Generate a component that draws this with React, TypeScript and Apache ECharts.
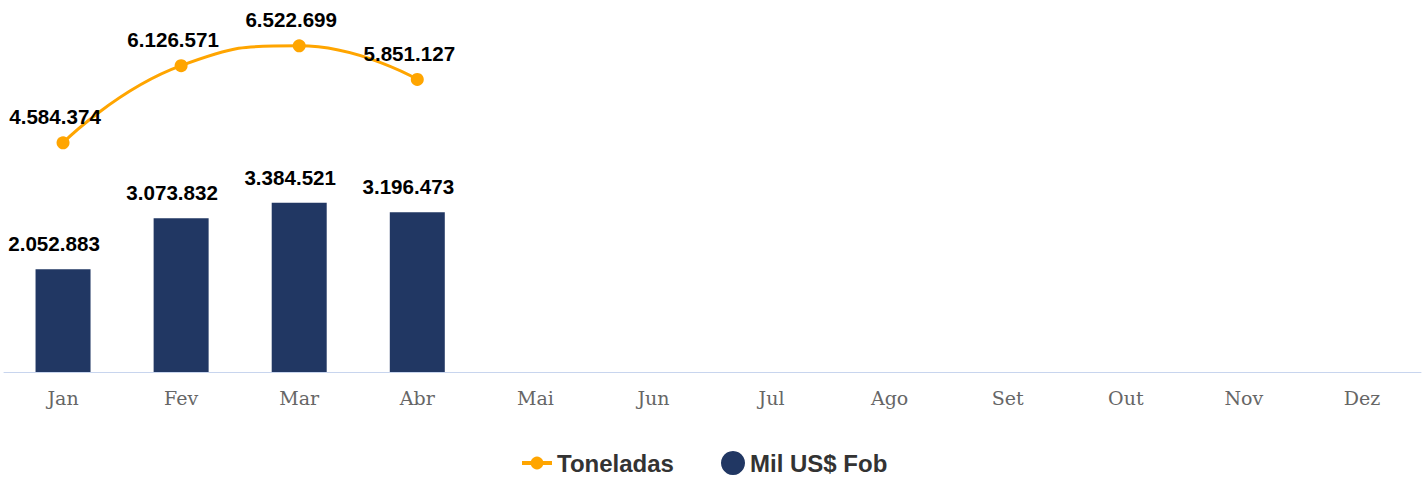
import React, { useEffect, useRef } from "react";
import * as echarts from "echarts";

const months = ["Jan", "Fev", "Mar", "Abr", "Mai", "Jun", "Jul", "Ago", "Set", "Out", "Nov", "Dez"];
const toneladas = [4584374, 6126571, 6522699, 5851127];
const milUsFob = [2052883, 3073832, 3384521, 3196473];

const fmt = (v: number) => v.toString().replace(/\B(?=(\d{3})+(?!\d))/g, ".");

const legendText = { fontFamily: "Liberation Sans, Arial, sans-serif", fontWeight: "bold", fontSize: 24, color: "#333" };

export default function App() {
  const ref = useRef<HTMLDivElement>(null);
  useEffect(() => {
    const chart = echarts.init(ref.current!, null, { renderer: "svg" });
    chart.setOption({
      animation: false,
      grid: { left: 4, right: 7, top: 22, bottom: 108, containLabel: false },
      legend: [
        {
          left: 515,
          top: 446,
          itemWidth: 30,
          itemHeight: 16,
          data: [{ name: "Toneladas", lineStyle: { width: 4 } }],
          textStyle: legendText,
        },
        {
          left: 716,
          top: 446,
          itemWidth: 24,
          itemHeight: 24,
          data: [{ name: "Mil US$ Fob", icon: "circle" }],
          textStyle: legendText,
        },
      ],
      xAxis: {
        type: "category",
        data: months,
        axisLine: { lineStyle: { color: "#c8d5ee", width: 1 } },
        axisTick: { show: false },
        axisLabel: { fontFamily: "DejaVu Serif, serif", fontSize: 19, color: "#666", margin: 16 },
      },
      yAxis: {
        type: "value",
        min: 0,
        max: 7000000,
        show: false,
        splitLine: { show: false },
      },
      series: [
        {
          name: "Mil US$ Fob",
          type: "bar",
          data: milUsFob,
          barWidth: 55,
          itemStyle: { color: "#213763" },
          label: {
            show: true,
            position: "top",
            offset: [-9, -10],
            fontFamily: "Liberation Sans, Arial, sans-serif",
            fontWeight: "bold",
            fontSize: 20.6,
            color: "#000",
            formatter: (p: any) => fmt(p.value),
          },
        },
        {
          name: "Toneladas",
          type: "line",
          data: toneladas,
          smooth: true,
          symbol: "circle",
          symbolSize: 13,
          lineStyle: { color: "#FFA500", width: 3 },
          itemStyle: { color: "#FFA500" },
          label: {
            show: true,
            position: "top",
            offset: [-8, -4],
            fontFamily: "Liberation Sans, Arial, sans-serif",
            fontWeight: "bold",
            fontSize: 20.6,
            color: "#000",
            formatter: (p: any) => fmt(p.value),
          },
        },
      ],
    });
    return () => chart.dispose();
  }, []);
  return <div ref={ref} style={{ width: 1428, height: 480, position: "absolute", left: 0, top: 0 }} />;
}
